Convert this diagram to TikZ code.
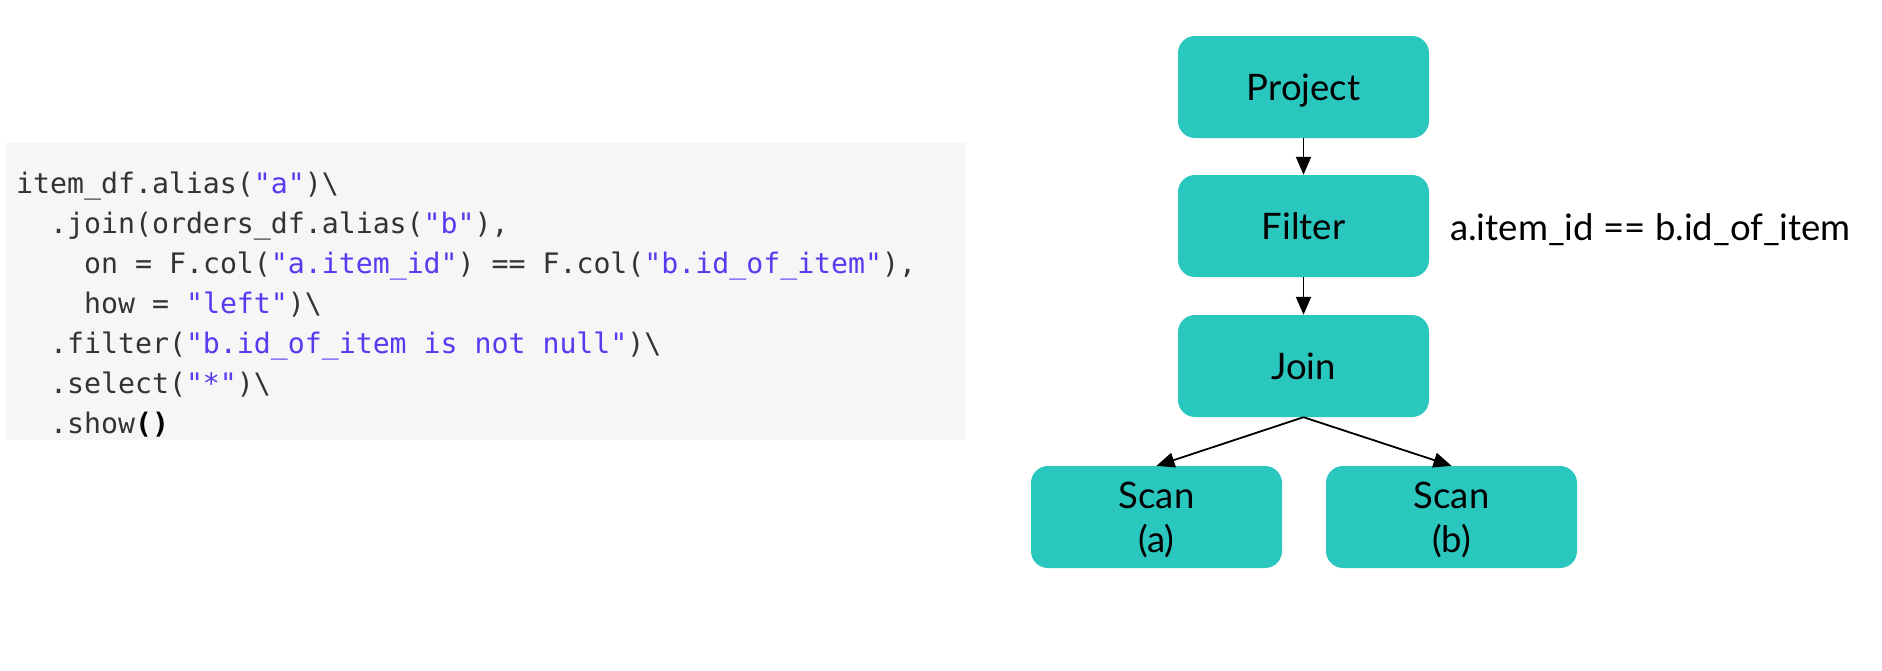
\documentclass[tikz,border=0pt]{standalone}
\usepackage{fontspec}
\setmainfont{Lato}
\setmonofont{DejaVu Sans Mono}
\usetikzlibrary{arrows.meta}
\definecolor{tealbox}{RGB}{41,199,190}
\definecolor{codebg}{RGB}{246,246,246}
\definecolor{codefg}{RGB}{51,51,51}
\definecolor{codestr}{RGB}{88,58,240}
\newcommand{\cs}[1]{\textcolor{codestr}{#1}}
\begin{document}
\begin{tikzpicture}[x=1pt,y=-1pt,
  opbox/.style={fill=tealbox, rounded corners=17pt, minimum width=251pt, minimum height=102pt,
    inner sep=0pt, font=\fontsize{36.5}{44}\selectfont, align=center, text height=26.3pt, text depth=0pt},
  scanbox/.style={opbox, text height=70.3pt},
  flow/.style={-{Triangle[length=18pt,width=15pt]}, line width=1.8pt},
  codeline/.style={anchor=base west, inner sep=0pt, font=\fontsize{28.2}{40}\selectfont\ttfamily, text=codefg}]
\useasboundingbox (0,0) rectangle (1882,670);
\fill[white] (0,0) rectangle (1882,670);
% code block
\node (codebox) [fill=codebg, inner sep=0pt, minimum width=960pt, minimum height=297pt, anchor=north west] at (6,143) {};
\node[codeline] (l1) at (16,193) {item\_df.alias(\cs{"a"})\textbackslash};
\node[codeline] (l2) at (50,233) {.join(orders\_df.alias(\cs{"b"}),};
\node[codeline] (l3) at (84,273) {on = F.col(\cs{"a.item\_id"}) == F.col(\cs{"b.id\_of\_item"}),};
\node[codeline] (l4) at (84,313) {how = \cs{"left"})\textbackslash};
\node[codeline] (l5) at (50,353) {.filter(\cs{"b.id\_of\_item is not null"})\textbackslash};
\node[codeline] (l6) at (50,393) {.select(\cs{"*"})\textbackslash};
\node[codeline] (l7) at (50,433) {.show\textcolor{black}{\textbf{()}}};
% plan tree
\node[opbox] (project) at (1303.5,87) {Project};
\node[opbox] (filter) at (1303.5,226) {Filter};
\node[opbox] (join) at (1303.5,366) {Join};
\node[scanbox] (scana) at (1156.5,517) {Scan\\(a)};
\node[scanbox] (scanb) at (1451.5,517) {Scan\\(b)};
\node[anchor=base west, inner sep=0pt, font=\fontsize{36.5}{44}\selectfont] (cond) at (1450,240) {a.item\_id == b.id\_of\_item};
\draw[flow] (project) -- (filter);
\draw[flow] (filter) -- (join);
\draw[flow] (join.south) -- (scana.north);
\draw[flow] (join.south) -- (scanb.north);
\end{tikzpicture}
\end{document}
